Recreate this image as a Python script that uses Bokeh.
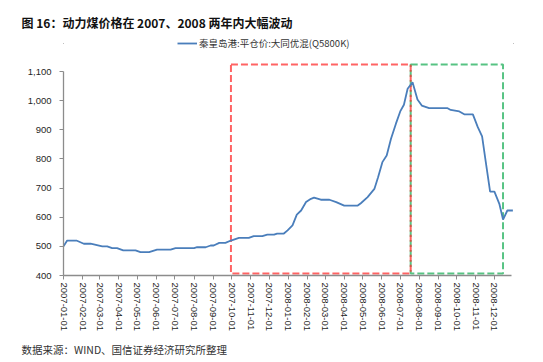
import pandas as pd
from bokeh.plotting import figure
from bokeh.layouts import column
from bokeh.models import (Range1d, FixedTicker, DatetimeTickFormatter, Legend,
                          LegendItem, NumeralTickFormatter, Plot, Div)
from bokeh.core.properties import value
from bokeh.embed import file_html
from bokeh.resources import INLINE

TITLE = "图 16：动力煤价格在 2007、2008 两年内大幅波动"
SERIES_NAME = "秦皇岛港:平仓价:大同优混(Q5800K)"
SOURCE = "数据来源：WIND、国信证券经济研究所整理"

DATES = [
    "2007-01-01", "2007-01-07", "2007-01-22", "2007-02-03", "2007-02-14", "2007-03-05",
    "2007-03-13", "2007-03-21", "2007-03-29", "2007-04-08", "2007-04-28", "2007-05-06",
    "2007-05-20", "2007-06-02", "2007-06-24", "2007-07-02", "2007-08-01", "2007-08-06",
    "2007-08-20", "2007-08-28", "2007-09-02", "2007-09-11", "2007-09-21", "2007-09-30",
    "2007-10-13", "2007-10-29", "2007-11-06", "2007-11-20", "2007-11-28", "2007-12-09",
    "2007-12-14", "2007-12-25", "2007-12-31", "2008-01-08", "2008-01-15", "2008-01-22",
    "2008-01-30", "2008-02-07", "2008-02-12", "2008-02-23", "2008-03-08", "2008-03-19",
    "2008-04-01", "2008-04-23", "2008-04-28", "2008-05-09", "2008-05-20", "2008-05-26",
    "2008-06-02", "2008-06-09", "2008-06-16", "2008-06-24", "2008-07-01", "2008-07-07",
    "2008-07-13", "2008-07-21", "2008-07-29", "2008-08-05", "2008-08-17", "2008-09-16",
    "2008-09-21", "2008-10-05", "2008-10-13", "2008-10-27", "2008-11-04", "2008-11-11",
    "2008-11-17", "2008-11-24", "2008-12-01", "2008-12-09", "2008-12-15", "2008-12-22",
    "2008-12-31",
]
PRICES = [
    500, 520, 520, 509, 509, 500,
    500, 494, 494, 486, 486, 480,
    480, 489, 489, 494, 494, 497,
    497, 503, 503, 512, 512, 520,
    529, 529, 535, 535, 540, 540,
    544, 544, 555, 572, 609, 623,
    652, 663, 667, 660, 660, 652,
    640, 640, 648, 669, 697, 737,
    789, 812, 869, 921, 963, 986,
    1041, 1063, 1004, 983, 974, 974,
    968, 963, 953, 953, 909, 877,
    789, 688, 688, 646, 592, 623,
    623,
]
TICK_DATES = [
    "2007-01-01", "2007-02-01", "2007-03-01", "2007-04-01", "2007-05-01", "2007-06-01",
    "2007-07-01", "2007-08-01", "2007-09-01", "2007-10-01", "2007-11-01", "2007-12-01",
    "2008-01-01", "2008-02-01", "2008-03-01", "2008-04-01", "2008-05-01", "2008-06-01",
    "2008-07-01", "2008-08-01", "2008-09-01", "2008-10-01", "2008-11-01", "2008-12-01",
]
Y_TICKS = [400, 500, 600, 700, 800, 900, 1000, 1100]
RED_BOX = ["2007-09-30", "2008-07-18"]
GREEN_BOX = ["2008-07-18", "2008-12-15"]
BOX_LOW, BOX_HIGH = 407, 1124

# ---- layout constants (pixels) ----
W = 543
RULE1_H, HEAD_H, RULE2_H = 8, 25, 3
RULE3_H, FOOT_H = 6, 22
TOP_H = RULE1_H + HEAD_H + RULE2_H
MAIN_H = 362 - TOP_H - RULE3_H - FOOT_H
BL, BR, BT = 63, 30, 0
FRAME_BOTTOM = 275 - TOP_H
BB = MAIN_H - FRAME_BOTTOM
FH = FRAME_BOTTOM - BT
PX_PER_UNIT = 204.0 / 700.0
X_START = pd.Timestamp("2007-01-01")
X_END = pd.Timestamp("2009-01-01")
X_AXIS_END = pd.Timestamp("2008-12-29")
Y_START = 400
Y_END = Y_START + FH / PX_PER_UNIT

HAS_FRAME_ALIGN = "frame_align" in Plot.properties()


def ms(ts):
    return pd.Timestamp(ts).value / 1e6


def blank(h):
    f = figure(width=W, height=h, x_range=Range1d(0, W), y_range=Range1d(0, h),
               x_axis_location=None, y_axis_location=None,
               output_backend="svg", toolbar_location=None,
               min_border_left=0, min_border_right=0, min_border_top=0, min_border_bottom=0)
    if HAS_FRAME_ALIGN:
        f.frame_align = False
    f.title.visible = False
    f.grid.visible = False
    f.outline_line_color = None
    f.background_fill_color = "white"
    f.border_fill_color = "white"
    return f


def rule_div(h, top):
    html = ('<div style="position:relative;width:%dpx;height:%dpx;">'
            '<div style="position:absolute;left:11px;top:%.1fpx;width:521px;'
            'height:1.6px;background:#000000;"></div></div>' % (W, h, top))
    return Div(text=html, width=W, height=h, margin=0)


# ---- header ----
head = blank(HEAD_H)
head.text(x=[21], y=[HEAD_H - (21.5 - RULE1_H)], text=[TITLE], text_baseline="middle",
          text_align="left", text_font=value("Noto Sans CJK SC"), text_font_style="bold",
          text_font_size="12px", text_color="#111111")

# ---- main chart ----
dates = pd.to_datetime(DATES)
p = figure(width=W, height=MAIN_H, x_axis_type="datetime",
           x_range=Range1d(ms(X_START), ms(X_END)), y_range=Range1d(Y_START, Y_END),
           output_backend="svg", toolbar_location=None,
           min_border_left=BL, min_border_right=BR, min_border_top=BT, min_border_bottom=BB)
p.outline_line_color = None
p.grid.grid_line_color = None
p.background_fill_color = "white"
p.border_fill_color = "white"

p.quad(left=[pd.Timestamp(GREEN_BOX[0])], right=[pd.Timestamp(GREEN_BOX[1])],
       bottom=[BOX_LOW], top=[BOX_HIGH], fill_alpha=0, line_color="#2DB464",
       line_alpha=0.8, line_width=2, line_dash="7 3")
p.quad(left=[pd.Timestamp(RED_BOX[0])], right=[pd.Timestamp(RED_BOX[1])],
       bottom=[BOX_LOW], top=[BOX_HIGH], fill_alpha=0, line_color="#FF3030",
       line_alpha=0.75, line_width=2, line_dash="7 3")

line = p.line(dates, PRICES, line_color="#4A7EBB", line_width=1.8)

ax = p.xaxis[0]
ax.ticker = FixedTicker(ticks=[ms(d) for d in TICK_DATES])
fmt = "%Y-%m-%d"
ax.formatter = DatetimeTickFormatter(
    years=fmt, months=fmt, days=fmt, hours=fmt, hourmin=fmt, minutes=fmt,
    minsec=fmt, seconds=fmt, milliseconds=fmt, microseconds=fmt)
ax.major_label_orientation = "vertical"
ax.bounds = (ms(X_START), ms(X_AXIS_END))
ax.major_label_standoff = 3
ay = p.yaxis[0]
ay.ticker = FixedTicker(ticks=Y_TICKS)
ay.formatter = NumeralTickFormatter(format="0,0")
ay.bounds = (400, 1100)
ay.major_label_standoff = 8
for a in (ax, ay):
    a.axis_line_color = "#8C8C8C"
    a.axis_line_width = 1.3
    a.major_tick_line_color = "#8C8C8C"
    a.major_tick_in = 0
    a.major_tick_out = 4
    a.minor_tick_line_color = None
    a.major_label_text_font = "Liberation Sans"
    a.major_label_text_font_size = "9.5px"
    a.major_label_text_color = "#1F1F1F"

legend = Legend(items=[LegendItem(label=SERIES_NAME, renderers=[line])],
                location=(177 - BL, FRAME_BOTTOM - (50 - TOP_H)),
                border_line_color=None, background_fill_alpha=0, padding=0, margin=0,
                glyph_width=20, glyph_height=14, label_height=14, label_standoff=2,
                spacing=0, label_text_font="Noto Sans CJK SC",
                label_text_font_size="9.5px", label_text_color="#333333")
p.add_layout(legend)

# ---- footer ----
foot = blank(FOOT_H)
foot.text(x=[21], y=[FOOT_H - (349 - 340)], text=[SOURCE], text_baseline="middle",
          text_align="left", text_font=value("Noto Sans CJK SC"), text_font_size="10.5px",
          text_color="#333333")

layout = column(rule_div(RULE1_H, 6.2), head, rule_div(RULE2_H, 0.5), p,
                rule_div(RULE3_H, 3.5), foot, spacing=0)
open("out.html", "w").write(file_html(layout, INLINE))
